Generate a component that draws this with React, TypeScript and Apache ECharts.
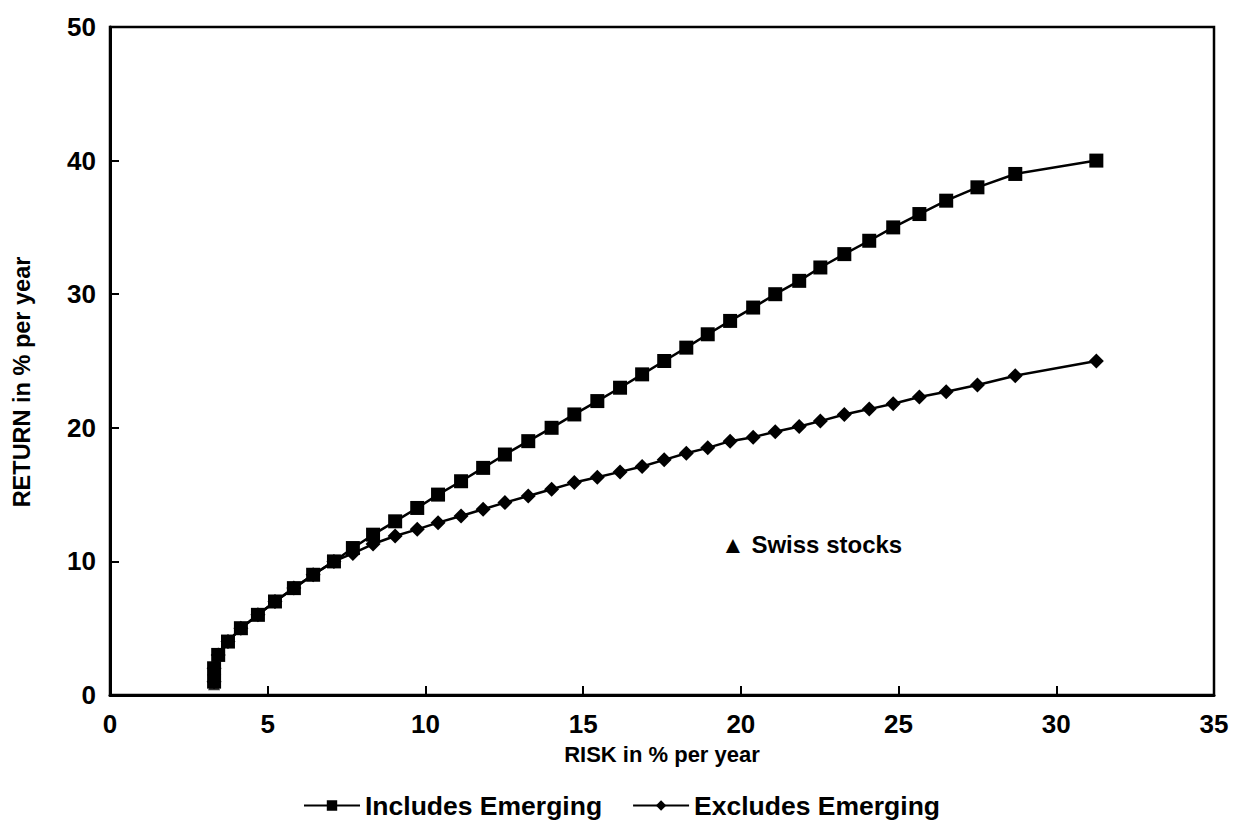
import React, { useEffect, useRef } from "react";
import * as echarts from "echarts";

const includesRisk = [3.3, 3.3, 3.43, 3.74, 4.15, 4.69, 5.23, 5.83, 6.44, 7.1, 7.7, 8.34, 9.04, 9.74, 10.4, 11.13, 11.83, 12.52, 13.26, 14.0, 14.72, 15.45, 16.17, 16.87, 17.57, 18.27, 18.95, 19.66, 20.39, 21.09, 21.85, 22.52, 23.28, 24.07, 24.83, 25.66, 26.51, 27.5, 28.7, 31.27];
const includesReturn = [1, 2, 3, 4, 5, 6, 7, 8, 9, 10, 11, 12, 13, 14, 15, 16, 17, 18, 19, 20, 21, 22, 23, 24, 25, 26, 27, 28, 29, 30, 31, 32, 33, 34, 35, 36, 37, 38, 39, 40];

const excludesRisk = [3.3, 3.3, 3.43, 3.74, 4.15, 4.69, 5.23, 5.83, 6.44, 7.1, 7.7, 8.34, 9.04, 9.74, 10.4, 11.13, 11.83, 12.52, 13.26, 14.0, 14.72, 15.45, 16.17, 16.87, 17.57, 18.27, 18.95, 19.66, 20.39, 21.09, 21.85, 22.52, 23.28, 24.07, 24.83, 25.66, 26.51, 27.5, 28.7, 31.27];
const excludesReturn = [1, 2, 3, 4, 5, 6, 7, 8, 9, 10, 10.6, 11.3, 11.9, 12.4, 12.9, 13.4, 13.9, 14.4, 14.9, 15.4, 15.9, 16.3, 16.7, 17.1, 17.6, 18.1, 18.5, 19.0, 19.3, 19.7, 20.1, 20.5, 21.0, 21.4, 21.8, 22.3, 22.7, 23.2, 23.9, 25.0];

const swissStocks = [[3.3, 0.8]];

const seriesNames = ["Includes Emerging", "Excludes Emerging"];
const xTitle = "RISK in % per year";
const yTitle = "RETURN in % per year";
const swissLabel = "\u25B2 Swiss stocks";

const FONT = "'Liberation Sans', Arial, Helvetica, sans-serif";

export default function App() {
  const ref = useRef<HTMLDivElement>(null);
  useEffect(() => {
    document.body.style.margin = "0";
    const chart = echarts.init(ref.current!, null, { renderer: "svg" });
    const zip = (xs: number[], ys: number[]) => xs.map((x, i) => [x, ys[i]]);
    chart.setOption({
      animation: false,
      backgroundColor: "#fff",
      textStyle: { fontFamily: FONT, color: "#000" },
      grid: {
        left: 110,
        right: 25,
        top: 27,
        bottom: 134,
        show: true,
        borderColor: "#000",
        borderWidth: 2.5,
        outerBoundsMode: "none",
        containLabel: false,
      },
      xAxis: {
        type: "value",
        min: 0,
        max: 35,
        interval: 5,
        name: xTitle,
        nameLocation: "middle",
        nameGap: 48,
        nameTextStyle: { fontSize: 22, fontWeight: "bold", color: "#000", fontFamily: FONT },
        axisLine: { show: true, lineStyle: { color: "#000", width: 3 } },
        axisTick: { show: true, inside: true, length: 9, lineStyle: { color: "#000", width: 2 } },
        axisLabel: { fontSize: 26, fontWeight: "bold", color: "#000", margin: 16, fontFamily: FONT },
        splitLine: { show: false },
      },
      yAxis: {
        type: "value",
        min: 0,
        max: 50,
        interval: 10,
        axisLine: { show: true, lineStyle: { color: "#000", width: 3 } },
        axisTick: { show: true, inside: true, length: 9, lineStyle: { color: "#000", width: 2 } },
        axisLabel: { fontSize: 26, fontWeight: "bold", color: "#000", margin: 14, fontFamily: FONT },
        splitLine: { show: false },
      },
      legend: {
        bottom: 5,
        left: 298,
        itemWidth: 56,
        itemHeight: 13,
        itemGap: 30,
        textStyle: { fontSize: 26.5, fontWeight: "bold", color: "#000", fontFamily: FONT },
        data: seriesNames,
      },
      graphic: [
        {
          type: "text",
          left: 721,
          top: 532,
          style: { text: swissLabel, fontSize: 24, fontWeight: "bold", fill: "#000", fontFamily: FONT },
        },
        {
          type: "text",
          x: 22,
          y: 382,
          rotation: Math.PI / 2,
          style: {
            text: yTitle,
            fontSize: 23.5,
            fontWeight: "bold",
            fill: "#000",
            fontFamily: FONT,
            align: "center",
            verticalAlign: "middle",
          },
        },
      ],
      series: [
        {
          name: seriesNames[1],
          type: "line",
          data: zip(excludesRisk, excludesReturn),
          symbol: "diamond",
          symbolSize: 15,
          itemStyle: { color: "#000" },
          lineStyle: { color: "#000", width: 2.5 },
          z: 2,
        },
        {
          name: seriesNames[0],
          type: "line",
          data: zip(includesRisk, includesReturn),
          symbol: "rect",
          symbolSize: 14,
          itemStyle: { color: "#000" },
          lineStyle: { color: "#000", width: 2.5 },
          z: 3,
        },
        {
          name: "Swiss stocks",
          type: "scatter",
          data: swissStocks,
          symbol: "triangle",
          symbolSize: 12,
          itemStyle: { color: "#000" },
          z: 4,
        },
      ],
    });
    return () => chart.dispose();
  }, []);
  return <div ref={ref} style={{ width: 1239, height: 829 }} />;
}
